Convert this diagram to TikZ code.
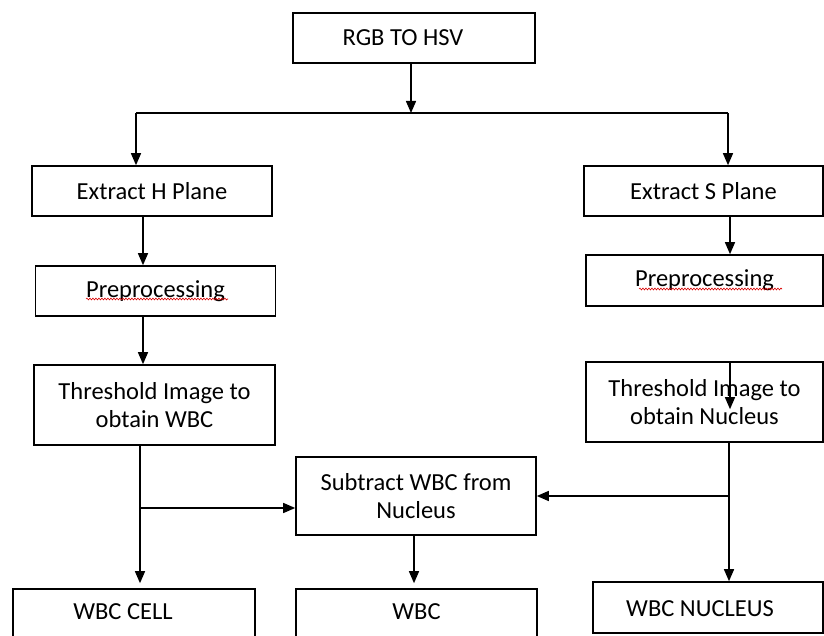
\documentclass[tikz,border=0pt]{standalone}
\usepackage{fontspec}
\setmainfont{Carlito}
\usetikzlibrary{arrows.meta,decorations.pathmorphing}
\tikzset{
  box/.style={draw=black, line width=1.6pt, rectangle, inner sep=0pt, align=center},
  arr/.style={line width=1.4pt, -{Triangle[length=12pt,width=10pt]}},
  ln/.style={line width=1.4pt},
  squig/.style={draw=red!85!black, line width=0.6pt, decorate,
    decoration={snake, segment length=3pt, amplitude=0.9pt}}
}
\begin{document}
\begin{tikzpicture}[x=1pt, y=-1pt, font=\fontsize{24.5}{28.5}\selectfont]
\useasboundingbox (0,0) rectangle (824,636);
% boxes
\node[box, minimum width=242pt, minimum height=50pt,
  label={[xshift=-11pt]center:RGB TO HSV}] (rgb) at (414,38) {};
\node[box, minimum width=240pt, minimum height=50pt] (exH) at (152,191) {Extract H Plane};
\node[box, minimum width=240pt, minimum height=50pt] (preL) at (155.5,291) {Preprocessing};
\node[box, minimum width=241pt, minimum height=80pt] (thL) at (154.5,405) {Threshold Image to\\obtain WBC};
\node[box, minimum width=239pt, minimum height=50pt] (exS) at (703.5,191) {Extract S Plane};
\node[box, minimum width=237pt, minimum height=51pt] (preR) at (704.5,280.5) {Preprocessing};
\node[box, minimum width=237pt, minimum height=80pt] (thR) at (704.5,402) {Threshold Image to\\obtain Nucleus};
\node[box, minimum width=240pt, minimum height=78pt] (sub) at (416,496) {Subtract WBC from\\Nucleus};
\node[box, minimum width=242pt, minimum height=70pt,
  label={[xshift=-11pt,yshift=12pt]center:WBC CELL}] (cell) at (134,624) {};
\node[box, minimum width=241pt, minimum height=70pt,
  label={[yshift=12pt]center:WBC}] (wbc) at (416.5,624) {};
\node[box, minimum width=230pt, minimum height=51pt,
  label={[xshift=-8pt,yshift=-1pt]center:WBC NUCLEUS}] (nuc) at (708,607.5) {};
% spell-check squiggles
\draw[squig] (86,299) -- (228,299);
\draw[squig] (639,289) -- (782,289);
% connectors
\coordinate (hL) at (136,113);
\coordinate (hR) at (728,113);
\coordinate (jL) at (140,508);
\coordinate (jR) at (729,496);
\draw[arr] ([xshift=-3pt]rgb.south) -- ([xshift=-3pt]rgb.south |- hL);
\draw[ln] (hL) -- (hR);
\draw[arr] (hL) -- (hL |- exH.north);
\draw[arr] (hR) -- (hR |- exS.north);
\draw[arr] ([xshift=-9pt]exH.south) -- ([xshift=-9pt]exH.south |- preL.north);
\draw[arr] ([xshift=-12.5pt]preL.south) -- ([xshift=-12.5pt]preL.south |- thL.north);
\draw[arr] ([xshift=26.5pt]exS.south) -- ([xshift=26.5pt]exS.south |- preR.north);
\draw[arr] ([xshift=25.5pt]thR.north) -- ([xshift=25.5pt,yshift=-48pt]thR.north);
\draw[ln] ([xshift=-14.5pt]thL.south) -- (jL);
\draw[arr] (jL) -- ([yshift=5pt]jL |- cell.north);
\draw[arr] (jL) -- (jL -| sub.west);
\draw[ln] ([xshift=24.5pt]thR.south) -- (jR);
\draw[arr] (jR) -- (jR |- nuc.north);
\draw[arr] (jR) -- (jR -| sub.east);
\draw[arr] ([xshift=-2pt]sub.south) -- ([xshift=-2pt,yshift=5pt]sub.south |- wbc.north);
\end{tikzpicture}
\end{document}
